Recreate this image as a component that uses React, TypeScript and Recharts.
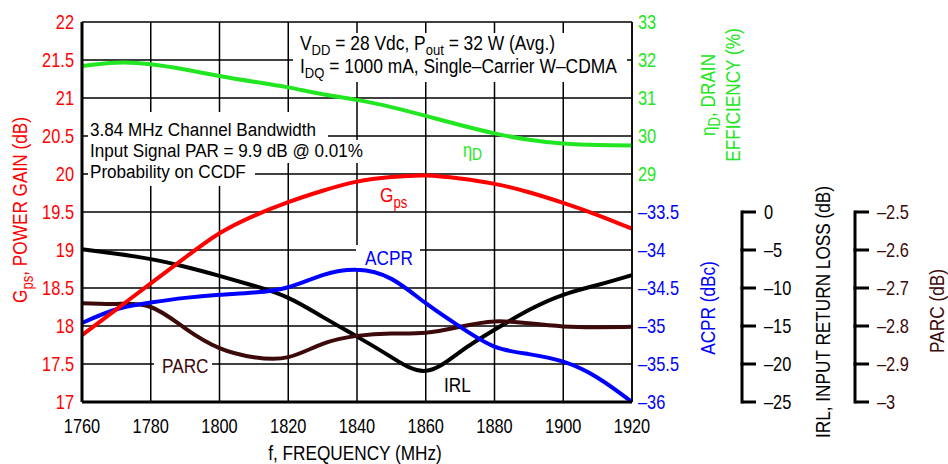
import React from 'react';
import { ComposedChart, Line, XAxis, YAxis, CartesianGrid } from 'recharts';

// values, 10 MHz steps
const frequency = [1760, 1770, 1780, 1790, 1800, 1810, 1820, 1830, 1840, 1850, 1860, 1870, 1880, 1890, 1900, 1910, 1920];
const gainPs = [17.88, 18.22, 18.56, 18.9, 19.22, 19.45, 19.63, 19.78, 19.9, 19.96, 19.98, 19.94, 19.87, 19.76, 19.62, 19.46, 19.28];
const drainEff = [31.84, 31.93, 31.89, 31.75, 31.58, 31.43, 31.28, 31.1, 30.95, 30.76, 30.53, 30.29, 30.07, 29.9, 29.8, 29.76, 29.75];
const acpr = [-34.96, -34.78, -34.69, -34.63, -34.59, -34.56, -34.49, -34.33, -34.26, -34.38, -34.7, -35.01, -35.27, -35.37, -35.47, -35.68, -36.0];
const irl = [-4.9, -5.5, -6.2, -7.2, -8.4, -9.7, -11.3, -13.8, -16.4, -19.1, -20.9, -18.4, -15.5, -12.9, -10.9, -9.6, -8.3];
const parc = [-2.74, -2.742, -2.75, -2.806, -2.858, -2.882, -2.882, -2.847, -2.826, -2.82, -2.818, -2.802, -2.788, -2.793, -2.801, -2.803, -2.802];

const freqTicks = [1760, 1780, 1800, 1820, 1840, 1860, 1880, 1900, 1920];
const gainTicks = [17, 17.5, 18, 18.5, 19, 19.5, 20, 20.5, 21, 21.5, 22];
const effTicks = [29, 30, 31, 32, 33];
const acprTicks = [-36, -35.5, -35, -34.5, -34, -33.5];
const irlTicks = [-25, -20, -15, -10, -5, 0];
const parcTicks = [-3, -2.9, -2.8, -2.7, -2.6, -2.5];

const data = frequency.map((f, i) => ({
  f,
  gain: gainPs[i],
  eff: drainEff[i],
  acpr: acpr[i],
  irl: irl[i],
  parc: parc[i],
}));

const FONT = "'Liberation Sans', Arial, Helvetica, sans-serif";
const SX = 0.82; // squeeze Liberation Sans into a Helvetica Narrow look
const RED = '#ff0000';
const GREEN = '#22e622';
const BLUE = '#0000ff';
const BROWN = '#3c0a0a';

const PLOT_H = 380;
// eff axis shares its column with ACPR: eff 23..33 <-> ACPR -36..-31
const effFromAcpr = (a: number) => 23 + (a + 36) * 2;
const acprFromEff = (e: number) => -36 + (e - 23) / 2;
const rightTicks = [...acprTicks.map(effFromAcpr), ...effTicks];

const fmt = (v: number) => (v < 0 ? '\u2013' + Math.abs(Math.round(v * 10) / 10) : String(v));

const NText = ({ x, y, anchor = 'start', rotate = false, size = 20, sx = SX, fill = '#000', children }: any) => (
  <text
    transform={`translate(${x} ${y})${rotate ? ' rotate(-90)' : ''} scale(${sx} 1)`}
    x={0}
    y={0}
    textAnchor={anchor}
    fontSize={size}
    fill={fill}
    fontFamily={FONT}
  >
    {children}
  </text>
);

const XTick = (props: any) => (
  <NText x={props.x} y={props.y} anchor="middle">{props.payload.value}</NText>
);

const GainTick = (props: any) => (
  <NText x={props.x} y={props.y + 7} anchor="end" fill={RED}>{props.payload.value}</NText>
);

const RightTick = (props: any) => {
  const { x, y, payload } = props;
  const v = payload.value;
  const isEff = v > 28.5;
  return (
    <NText x={x} y={y + 7} fill={isEff ? GREEN : BLUE}>
      {isEff ? String(v) : fmt(acprFromEff(v))}
    </NText>
  );
};

// bracket style axes: tick mark plus the piece of spine down to the next tick
const bracketTick = (color: string, bottomValue: number, steps: number) => (props: any) => {
  const { x, y, payload } = props;
  const ax = x - 22;
  const step = PLOT_H / steps;
  return (
    <g>
      <line x1={ax} y1={y} x2={ax + 14} y2={y} stroke="#000" strokeWidth={3} />
      {payload.value !== bottomValue && (
        <line x1={ax} y1={y - 1.5} x2={ax} y2={y + step + 1.5} stroke="#000" strokeWidth={3} />
      )}
      <NText x={x} y={y + 7} fill={color}>{fmt(payload.value)}</NText>
    </g>
  );
};

function Overlay() {
  return (
    <svg width={948} height={464} style={{ position: 'absolute', left: 0, top: 0, pointerEvents: 'none' }}>
      {/* test conditions box */}
      <rect x={293} y={33} width={334} height={49} fill="#fff" />
      <NText x={300} y={50} size={20} sx={0.87}>
        V<tspan dy={5} fontSize={15}>DD</tspan>
        <tspan dy={-5}> = 28 Vdc, P</tspan>
        <tspan dy={5} fontSize={15}>out</tspan>
        <tspan dy={-5}> = 32 W (Avg.)</tspan>
      </NText>
      <NText x={300} y={73} size={20} sx={0.87}>
        I<tspan dy={5} fontSize={15}>DQ</tspan>
        <tspan dy={-5}> = 1000 mA, Single{'\u2013'}Carrier W{'\u2013'}CDMA</tspan>
      </NText>

      {/* signal box */}
      <rect x={88} y={112} width={240} height={28} fill="#fff" />
      <rect x={88} y={140} width={282} height={23} fill="#fff" />
      <rect x={88} y={163} width={167} height={23} fill="#fff" />
      <NText x={90} y={136} size={19} sx={0.9}>3.84 MHz Channel Bandwidth</NText>
      <NText x={90} y={157} size={19} sx={0.9}>Input Signal PAR = 9.9 dB @ 0.01%</NText>
      <NText x={90} y={178} size={19} sx={0.9}>Probability on CCDF</NText>

      {/* curve labels */}
      <NText x={463} y={157} size={20} fill={GREEN}>
        {'\u03b7'}<tspan dy={3} fontSize={17}>D</tspan>
      </NText>
      <NText x={380} y={202} size={21} fill={RED}>
        G<tspan dy={6} fontSize={16}>ps</tspan>
      </NText>
      <rect x={356} y={245} width={64} height={23} fill="#fff" />
      <NText x={365} y={265} size={21} fill={BLUE}>ACPR</NText>
      <rect x={154} y={356} width={58} height={22} fill="#fff" />
      <NText x={162} y={373} size={21} fill={BROWN}>PARC</NText>
      <NText x={444} y={392} size={21}>IRL</NText>

      {/* axis titles */}
      <NText x={27} y={210} rotate anchor="middle" size={21} fill={RED}>
        G<tspan dy={6} fontSize={16}>ps</tspan>
        <tspan dy={-6}>, POWER GAIN (dB)</tspan>
      </NText>
      <NText x={715} y={95} rotate anchor="middle" size={21} fill={GREEN}>
        {'\u03b7'}<tspan dy={5} fontSize={16}>D</tspan>
        <tspan dy={-5}>, DRAIN</tspan>
      </NText>
      <NText x={740} y={95} rotate anchor="middle" size={21} fill={GREEN}>
        EFFICIENCY (%)
      </NText>
      <NText x={715} y={308} rotate anchor="middle" size={21} fill={BLUE}>
        ACPR (dBc)
      </NText>
      <NText x={830} y={312} rotate anchor="middle" size={21}>
        IRL, INPUT RETURN LOSS (dB)
      </NText>
      <NText x={944} y={311} rotate anchor="middle" size={21} fill={BROWN}>
        PARC (dB)
      </NText>
      <NText x={355} y={460} anchor="middle" size={21}>
        f, FREQUENCY (MHz)
      </NText>
    </svg>
  );
}

export default function App() {
  return (
    <div style={{ position: 'absolute', left: 0, top: 0, width: 948, height: 464, background: '#fff' }}>
      <ComposedChart width={948} height={464} data={data} margin={{ top: 22, right: 0, bottom: 0, left: 0 }}>
        <CartesianGrid yAxisId="gain" stroke="#000" strokeWidth={1.5} />
        <XAxis
          dataKey="f"
          type="number"
          domain={[1760, 1920]}
          ticks={freqTicks}
          interval={0}
          height={62}
          tickLine={false}
          tickSize={0}
          tickMargin={31}
          axisLine={{ stroke: '#000', strokeWidth: 3 }}
          tick={XTick}
        />
        <YAxis
          yAxisId="gain"
          type="number"
          domain={[17, 22]}
          ticks={gainTicks}
          interval={0}
          width={82}
          tickLine={false}
          tickSize={0}
          tickMargin={8}
          axisLine={{ stroke: '#000', strokeWidth: 3 }}
          tick={GainTick}
        />
        <YAxis
          yAxisId="eff"
          orientation="right"
          type="number"
          domain={[23, 33]}
          ticks={rightTicks}
          interval={0}
          width={110}
          tickLine={false}
          tickSize={0}
          tickMargin={6}
          axisLine={{ stroke: '#000', strokeWidth: 1.5 }}
          tick={RightTick}
        />
        <YAxis
          yAxisId="irl"
          orientation="right"
          type="number"
          domain={[-25, 25]}
          ticks={irlTicks}
          interval={0}
          width={113}
          tickLine={false}
          tickSize={14}
          tickMargin={8}
          axisLine={false}
          tick={bracketTick('#000', -25, 10)}
        />
        <YAxis
          yAxisId="parc"
          orientation="right"
          type="number"
          domain={[-3, -2]}
          ticks={parcTicks}
          interval={0}
          width={93}
          tickLine={false}
          tickSize={14}
          tickMargin={8}
          axisLine={false}
          tick={bracketTick(BROWN, -3, 10)}
        />
        <YAxis yAxisId="acpr" orientation="right" type="number" domain={[-36, -31]} width={0} hide />

        <Line yAxisId="irl" dataKey="irl" type="natural" stroke="#000" strokeWidth={4} dot={false} isAnimationActive={false} />
        <Line yAxisId="parc" dataKey="parc" type="natural" stroke={BROWN} strokeWidth={4} dot={false} isAnimationActive={false} />
        <Line yAxisId="acpr" dataKey="acpr" type="natural" stroke={BLUE} strokeWidth={4} dot={false} isAnimationActive={false} />
        <Line yAxisId="eff" dataKey="eff" type="natural" stroke={GREEN} strokeWidth={4} dot={false} isAnimationActive={false} />
        <Line yAxisId="gain" dataKey="gain" type="natural" stroke={RED} strokeWidth={4} dot={false} isAnimationActive={false} />
      </ComposedChart>
      <Overlay />
    </div>
  );
}
